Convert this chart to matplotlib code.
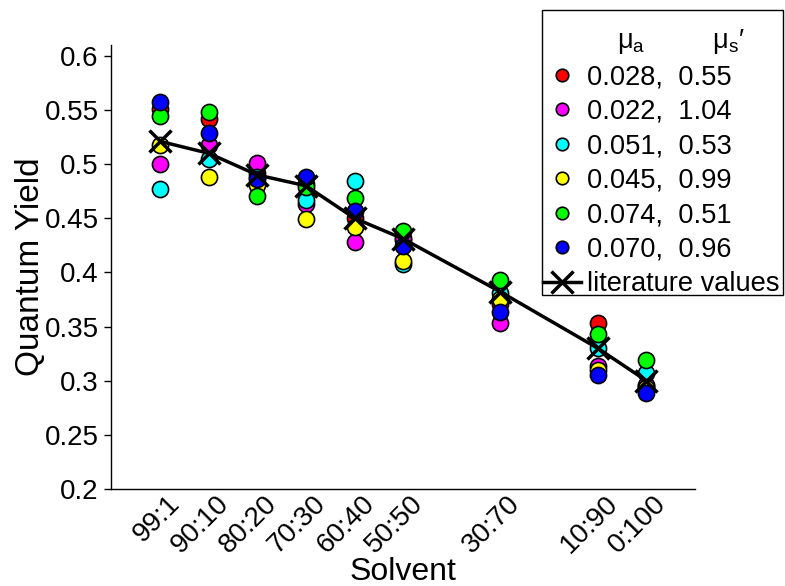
import matplotlib
matplotlib.use("Agg")
import matplotlib.pyplot as plt
from matplotlib.lines import Line2D
from matplotlib.patches import Rectangle
from matplotlib.transforms import ScaledTranslation

plt.rcParams['font.family'] = ['Liberation Sans', 'DejaVu Sans']
plt.rcParams['mathtext.fontset'] = 'custom'
plt.rcParams['mathtext.rm'] = 'Liberation Sans'
plt.rcParams['mathtext.it'] = 'Liberation Sans'

solvent_labels = ["99:1", "90:10", "80:20", "70:30", "60:40", "50:50", "30:70", "10:90", "0:100"]
solvent_pos = [0, 10, 20, 30, 40, 50, 70, 90, 100]

series_labels = ["0.028,  0.55", "0.022,  1.04", "0.051,  0.53",
                 "0.045,  0.99", "0.074,  0.51", "0.070,  0.96"]
series_colors = ["#ff0000", "#ff00ff", "#00ffff", "#ffff00", "#00ff00", "#0000ff"]

red     = [0.551, 0.542, 0.492, 0.482, 0.450, 0.430, 0.371, 0.353, 0.295]
magenta = [0.500, 0.518, 0.501, 0.463, 0.428, 0.432, 0.353, 0.314, 0.296]
cyan    = [0.477, 0.505, 0.488, 0.467, 0.484, 0.408, 0.381, 0.330, 0.307]
yellow  = [0.518, 0.488, 0.481, 0.449, 0.442, 0.411, 0.375, 0.310, 0.293]
green   = [0.544, 0.548, 0.471, 0.479, 0.469, 0.438, 0.393, 0.343, 0.319]
blue    = [0.557, 0.529, 0.486, 0.488, 0.457, 0.424, 0.363, 0.305, 0.289]
series_values = [red, magenta, cyan, yellow, green, blue]

literature = [0.521, 0.510, 0.490, 0.480, 0.450, 0.431, 0.382, 0.330, 0.300]

W, H = 785, 586
fig = plt.figure(figsize=(W/100, H/100), dpi=100)
ax_left, ax_right, ax_top, ax_bottom = 111, 695, 45, 489
ax = fig.add_axes([ax_left/W, 1-ax_bottom/H, (ax_right-ax_left)/W, (ax_bottom-ax_top)/H])

handles = []
for vals, col, lab in zip(series_values, series_colors, series_labels):
    ax.scatter(solvent_pos, vals, s=135, c=col, edgecolors='black', linewidths=1.2, zorder=3)
    handles.append(Line2D([], [], linestyle='none', marker='o', markersize=9,
                          markerfacecolor=col, markeredgecolor='black', markeredgewidth=1.2,
                          label=lab))

ax.plot(solvent_pos, literature, color='black', linewidth=2.5, marker='x',
        markersize=16, markeredgewidth=2.5, zorder=4)
handles.append(Line2D([], [], color='black', linewidth=2.5, marker='x',
                      markersize=16, markeredgewidth=2.5, label='literature values'))

header = Line2D([], [], linestyle='none', label=r'    $\mu_a$         $\mu_s\prime$')
handles = [header] + handles

ax.set_xlim(-10.1, 110)
ax.set_ylim(0.2, 0.61)
ax.set_yticks([0.2, 0.25, 0.3, 0.35, 0.4, 0.45, 0.5, 0.55, 0.6])
ax.set_yticklabels(["0.2", "0.25", "0.3", "0.35", "0.4", "0.45", "0.5", "0.55", "0.6"], fontsize=20)
ax.set_xticks(solvent_pos)
ax.set_xticklabels(solvent_labels, rotation=45, ha='right', va='center',
                   rotation_mode='anchor', fontsize=20)
ax.tick_params(axis='x', length=0, pad=8)
ax.tick_params(axis='y', direction='out', length=5, width=1, pad=4)
offset = ScaledTranslation(16/100, 0, fig.dpi_scale_trans)
for lbl in ax.get_xticklabels():
    lbl.set_transform(lbl.get_transform() + offset)

for s in ['top', 'right']:
    ax.spines[s].set_visible(False)
ax.spines['left'].set_linewidth(1)
ax.spines['bottom'].set_linewidth(1)

ax.set_ylabel('Quantum Yield', fontsize=24)
ax.yaxis.set_label_coords((46-ax_left)/(ax_right-ax_left), 0.5)
ax.set_xlabel('Solvent', fontsize=23, va='center')
ax.xaxis.set_label_coords(0.5, -(572-ax_bottom)/(ax_bottom-ax_top))

# legend box
box_l, box_t, box_r, box_b = 542, 10, 783, 295
fig.patches.append(Rectangle((box_l/W, 1-box_b/H), (box_r-box_l)/W, (box_b-box_t)/H,
                             transform=fig.transFigure, facecolor='white',
                             edgecolor='black', linewidth=1, zorder=5))
leg = fig.legend(handles=handles, loc='upper left',
                 bbox_to_anchor=(543/W, 1-27/H), bbox_transform=fig.transFigure,
                 borderaxespad=0, fontsize=19.6, frameon=False,
                 handlelength=1.4, handletextpad=0.2,
                 labelspacing=0.31, borderpad=0)
leg.set_zorder(6)

fig.savefig('out.png', dpi=100)
